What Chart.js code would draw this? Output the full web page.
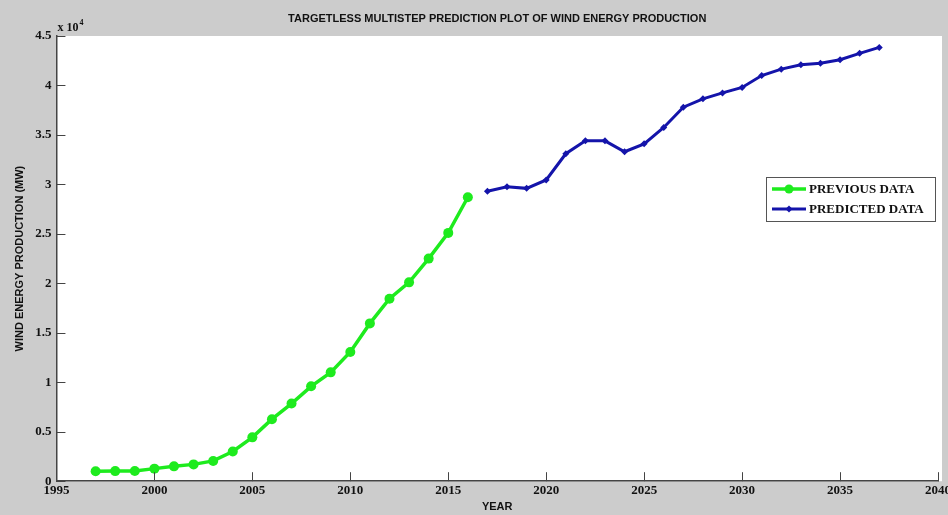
<!DOCTYPE html>
<html>
<head>
<meta charset="utf-8">
<script src="https://cdn.jsdelivr.net/npm/chart.js@4/dist/chart.umd.min.js"></script>
<style>
  html, body { margin: 0; padding: 0; background: #cccccc; }
  #wrap { width: 948px; height: 515px; position: relative; }
</style>
</head>
<body>
<div id="wrap"><canvas id="windChart"></canvas></div>
<script>
// data (MW)
const prevYears = [1997, 1998, 1999, 2000, 2001, 2002, 2003, 2004, 2005, 2006,
  2007, 2008, 2009, 2010, 2011, 2012, 2013, 2014, 2015, 2016]
const prevValues = [1000, 1020, 1030, 1270, 1500, 1700, 2050, 3000, 4430, 6270,
  7850, 9590, 11000, 13060, 15950, 18450, 20100, 22500, 25100, 28700]

const predYears = [2017, 2018, 2019, 2020, 2021, 2022, 2023, 2024, 2025, 2026,
  2027, 2028, 2029, 2030, 2031, 2032, 2033, 2034, 2035, 2036, 2037]
const predValues = [29300, 29750, 29600, 30450, 33100, 34400, 34400, 33300, 34100, 35750,
  37800, 38650, 39250, 39800, 41000, 41650, 42100, 42250, 42600, 43250, 43850]

const yTicks = [0, 0.5, 1, 1.5, 2, 2.5, 3, 3.5, 4, 4.5]
const xTicks = [1995, 2000, 2005, 2010, 2015, 2020, 2025, 2030, 2035, 2040]
const yScaleFactor = 10000

const chartTitle = "TARGETLESS MULTISTEP PREDICTION PLOT OF WIND ENERGY PRODUCTION"

const greenColor = "rgb(30, 235, 30)"
const blueColor = "rgb(20, 20, 170)"
const axisColor = "#444444"
const tickFont = { family: "'Liberation Serif', 'Times New Roman', serif", size: 13, weight: "bold" }

// plot area white + inward ticks + title + legend, drawn like matlab
const matlabPlugin = {
  id: "matlabLook",
  beforeDraw(chart) {
    const { ctx, chartArea } = chart
    ctx.save()
    ctx.fillStyle = "#cccccc"
    ctx.fillRect(0, 0, chart.width, chart.height)
    ctx.fillStyle = "#ffffff"
    ctx.fillRect(chartArea.left, chartArea.top, chartArea.right - chartArea.left + 4, chartArea.bottom - chartArea.top)
    ctx.restore()
  },
  afterDraw(chart) {
    const { ctx, chartArea, scales } = chart
    ctx.save()
    ctx.strokeStyle = axisColor
    ctx.lineWidth = 1
    // inward ticks
    xTicks.forEach((t) => {
      const px = Math.round(scales.x.getPixelForValue(t)) + 0.5
      ctx.beginPath()
      ctx.moveTo(px, chartArea.bottom)
      ctx.lineTo(px, chartArea.bottom - 9)
      ctx.stroke()
    })
    yTicks.forEach((t) => {
      const py = Math.round(scales.y.getPixelForValue(t * yScaleFactor)) + 0.5
      ctx.beginPath()
      ctx.moveTo(chartArea.left, py)
      ctx.lineTo(chartArea.left + 9, py)
      ctx.stroke()
    })

    // exponent label
    ctx.fillStyle = "#111"
    ctx.font = "bold 12px 'Liberation Serif', serif"
    ctx.textAlign = "left"
    ctx.textBaseline = "alphabetic"
    ctx.fillText("x 10", chartArea.left + 1, chartArea.top - 5)
    const w = ctx.measureText("x 10").width
    ctx.font = "bold 8px 'Liberation Serif', serif"
    ctx.fillText("4", chartArea.left + 1 + w + 1, chartArea.top - 11)

    // title centred on plot area
    ctx.font = "bold 11px 'Liberation Sans', Arial, sans-serif"
    ctx.textAlign = "center"
    ctx.textBaseline = "middle"
    ctx.fillText(chartTitle, (chartArea.left + chartArea.right) / 2, 19)

    // legend box
    const lx = 766, ly = 177, lw = 169, lh = 44
    ctx.fillStyle = "#ffffff"
    ctx.fillRect(lx, ly, lw, lh)
    ctx.strokeStyle = "#555"
    ctx.lineWidth = 1
    ctx.strokeRect(lx + 0.5, ly + 0.5, lw, lh)
    chart.data.datasets.forEach((ds, i) => {
      const cy = ly + 12 + i * 20
      ctx.strokeStyle = ds.borderColor
      ctx.lineWidth = ds.borderWidth
      ctx.beginPath()
      ctx.moveTo(lx + 6, cy)
      ctx.lineTo(lx + 40, cy)
      ctx.stroke()
      ctx.fillStyle = ds.pointBackgroundColor
      ctx.beginPath()
      if (i === 0) {
        ctx.arc(lx + 23, cy, 4.5, 0, Math.PI * 2)
      } else {
        ctx.moveTo(lx + 23, cy - 3.5)
        ctx.lineTo(lx + 26.5, cy)
        ctx.lineTo(lx + 23, cy + 3.5)
        ctx.lineTo(lx + 19.5, cy)
        ctx.closePath()
      }
      ctx.fill()
      ctx.fillStyle = "#111"
      ctx.font = "bold 13px 'Liberation Serif', serif"
      ctx.textAlign = "left"
      ctx.textBaseline = "middle"
      ctx.fillText(ds.label, lx + 43, cy + 1)
    })
    ctx.restore()
  },
}

const ctx = document.getElementById("windChart").getContext("2d")
const windChart = new Chart(ctx, {
  type: "line",
  data: {
    datasets: [
      {
        label: "PREVIOUS DATA",
        data: prevYears.map((y, i) => ({ x: y, y: prevValues[i] })),
        borderColor: greenColor,
        backgroundColor: greenColor,
        pointBackgroundColor: greenColor,
        pointBorderColor: greenColor,
        borderWidth: 3.5,
        pointRadius: 5,
        pointBorderWidth: 0,
        pointStyle: "circle",
        tension: 0,
      },
      {
        label: "PREDICTED DATA",
        data: predYears.map((y, i) => ({ x: y, y: predValues[i] })),
        borderColor: blueColor,
        backgroundColor: blueColor,
        pointBackgroundColor: blueColor,
        pointBorderColor: blueColor,
        borderWidth: 3,
        pointRadius: 3.5,
        pointBorderWidth: 0,
        pointStyle: "rectRot",
        tension: 0,
      },
    ],
  },
  options: {
    responsive: true,
    maintainAspectRatio: false,
    animation: false,
    layout: { padding: { top: 36, right: 10, left: 5, bottom: 0 } },
    plugins: {
      legend: { display: false },
      title: { display: false },
      tooltip: { enabled: false },
    },
    scales: {
      x: {
        type: "linear",
        min: 1995,
        max: 2040,
        afterBuildTicks: (scale) => {
          scale.ticks = xTicks.map((v) => ({ value: v }))
        },
        afterFit: (scale) => {
          scale.paddingLeft = 0
          scale.paddingRight = 0
        },
        grid: { display: false, drawTicks: false },
        border: { display: true, color: axisColor, width: 1.5 },
        ticks: {
          color: "#111",
          font: tickFont,
          padding: 2,
          maxRotation: 0,
          autoSkip: false,
          callback: (v) => String(v),
        },
        title: {
          display: true,
          text: "YEAR",
          color: "#111",
          font: { family: "'Liberation Sans', Arial, sans-serif", size: 11, weight: "bold" },
          padding: { top: 0, bottom: 1 },
        },
      },
      y: {
        type: "linear",
        min: 0,
        max: 45000,
        afterBuildTicks: (scale) => {
          scale.ticks = yTicks.map((v) => ({ value: v * yScaleFactor }))
        },
        afterFit: (scale) => {
          scale.paddingTop = 0
          scale.paddingBottom = 0
        },
        grid: { display: false, drawTicks: false },
        border: { display: true, color: axisColor, width: 1.5 },
        ticks: {
          color: "#111",
          font: tickFont,
          padding: 5,
          callback: (v) => String(v / yScaleFactor),
        },
        title: {
          display: true,
          text: "WIND ENERGY PRODUCTION (MW)",
          color: "#111",
          font: { family: "'Liberation Sans', Arial, sans-serif", size: 11, weight: "bold" },
          padding: { top: 8, bottom: 4 },
        },
      },
    },
  },
  plugins: [matlabPlugin],
})
</script>
</body>
</html>
